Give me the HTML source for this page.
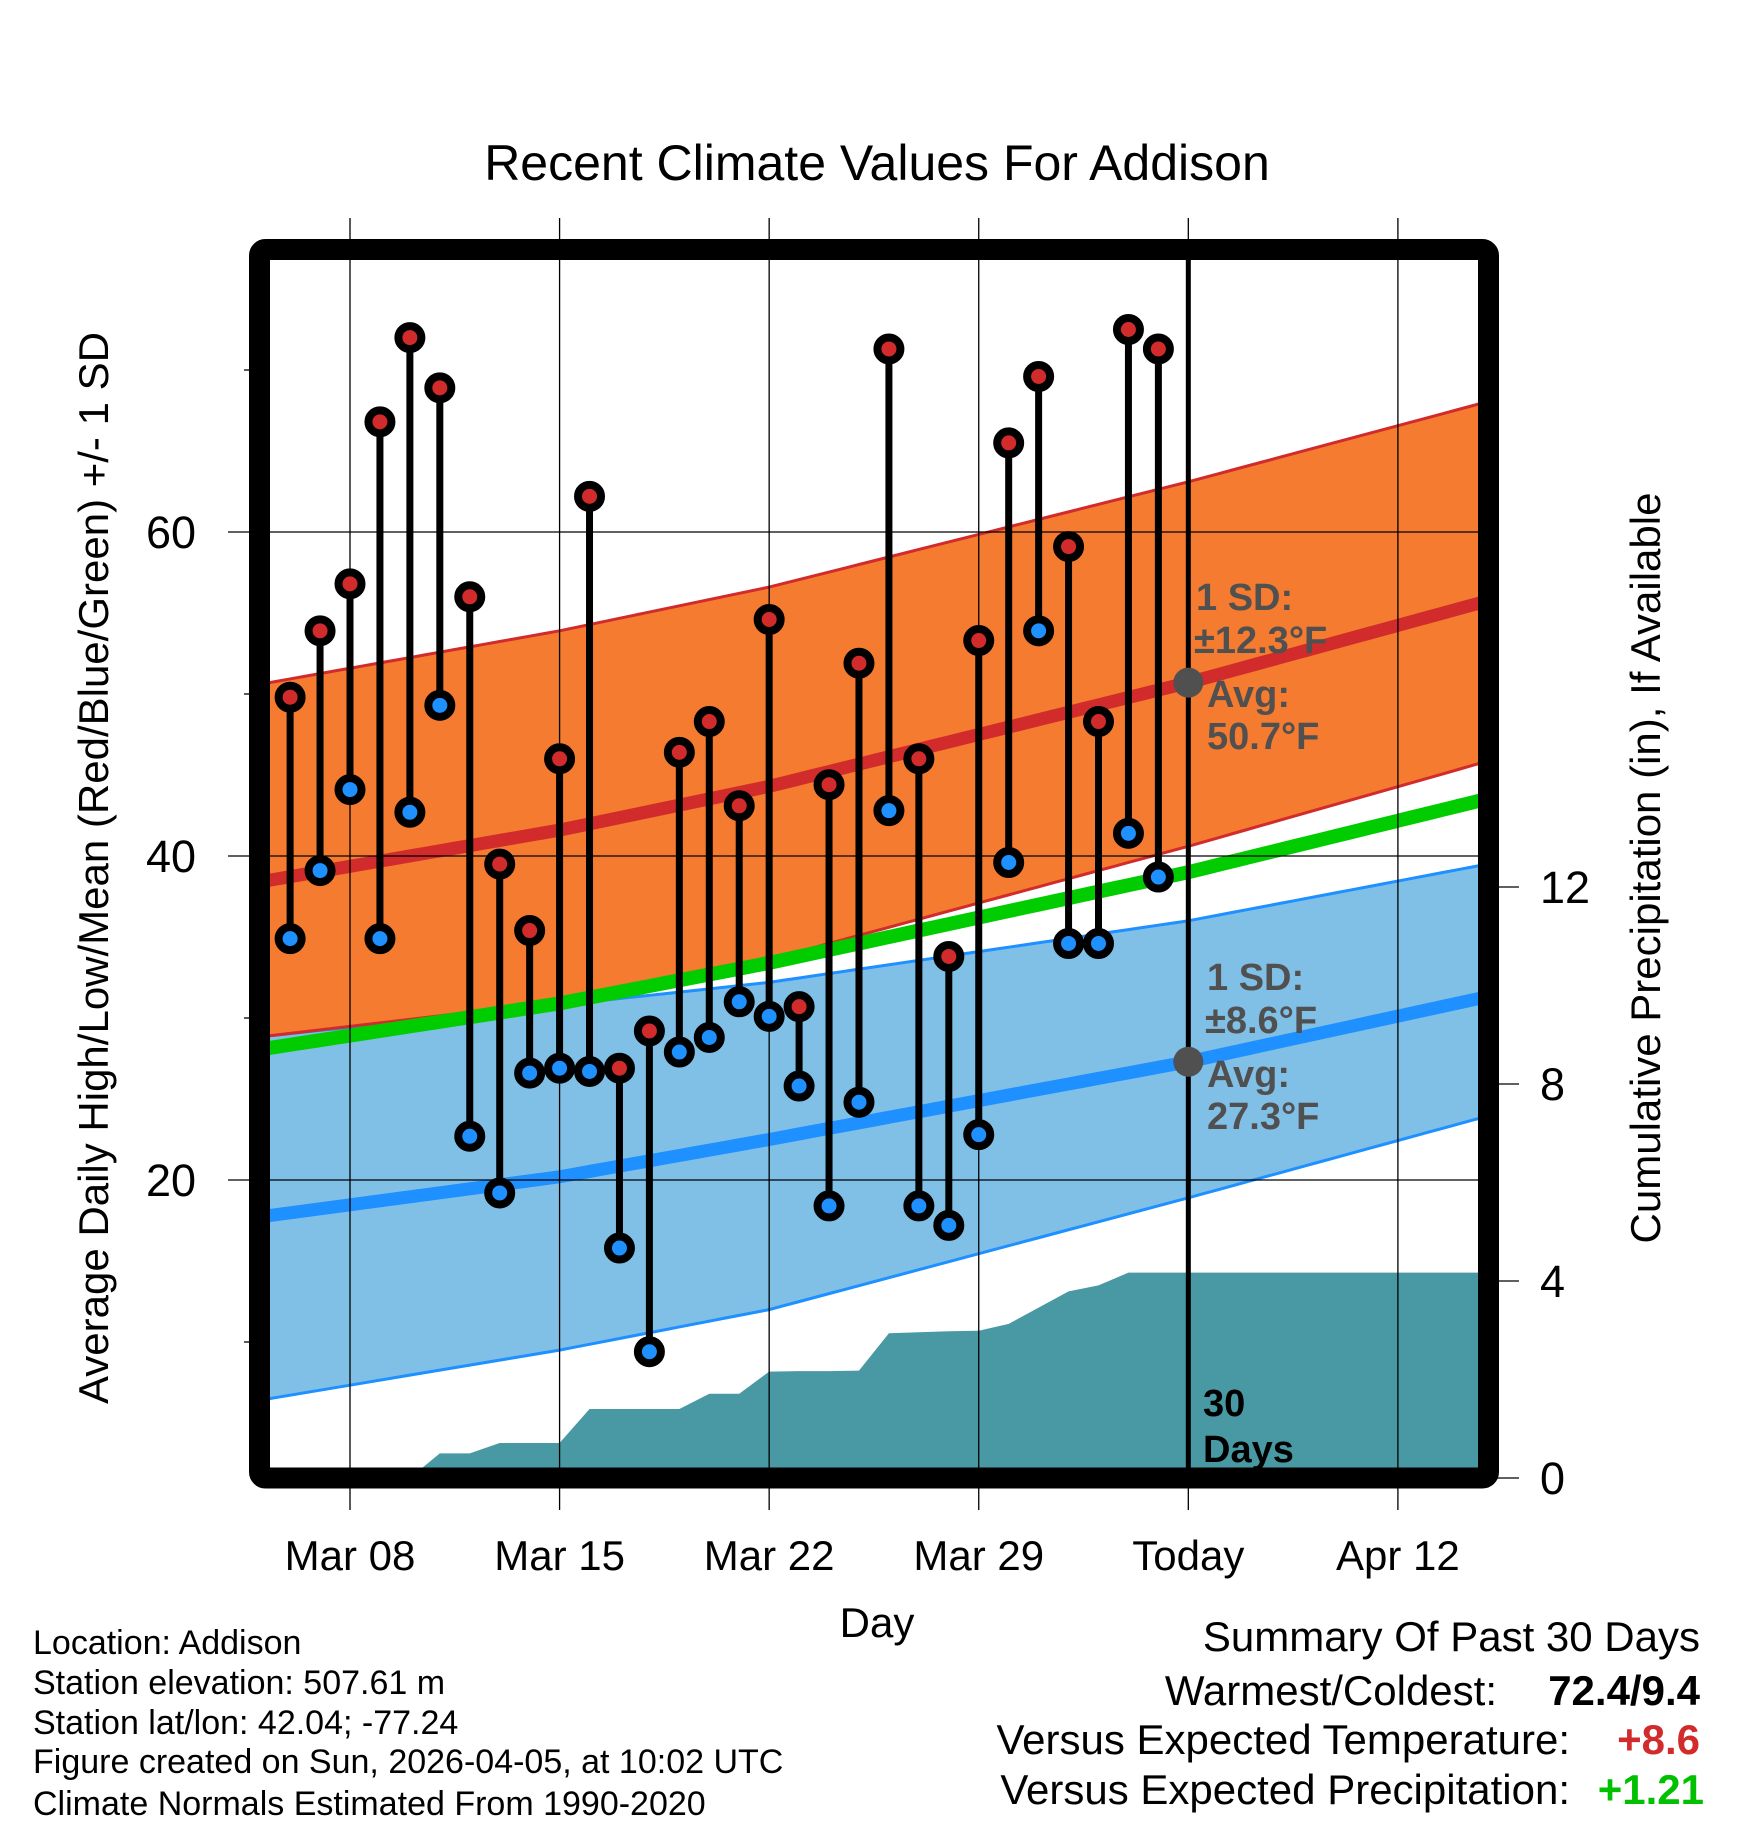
<!DOCTYPE html>
<html><head><meta charset="utf-8"><style>
html,body{margin:0;padding:0;background:#fff;}
svg{display:block;font-family:"Liberation Sans",Arial,sans-serif;}
</style></head><body>
<svg id="chart" width="1748" height="1828" viewBox="0 0 1748 1828" xmlns="http://www.w3.org/2000/svg">
<defs><clipPath id="plotclip"><rect x="270" y="260" width="1208" height="1208"/></clipPath></defs>
<g id="bg" clip-path="url(#plotclip)"></g>
<g id="grid"></g>
<g id="marks" clip-path="url(#plotclip)"></g>
<g id="frame"></g>
<g id="labels"></g>
</svg>
<script>
// ---- data ----
const dayLabels = ["Mar 08","Mar 15","Mar 22","Mar 29","Today","Apr 12"];
const dayTicks = [3,10,17,24,31,38];
const obsDays = [1,2,3,4,5,6,7,8,9,10,11,12,13,14,15,16,17,18,19,20,21,22,23,24,25,26,27,28,29,30];
const highs = [49.8,53.9,56.8,66.8,72.0,68.9,56.0,39.5,35.4,46.0,62.2,26.9,29.2,46.4,48.3,43.1,54.6,30.7,44.4,51.9,71.3,46.0,33.8,53.3,65.5,69.6,59.1,48.3,72.5,71.3];
const lows = [34.9,39.1,44.1,34.9,42.7,49.3,22.7,19.2,26.6,26.9,26.7,15.8,9.4,27.9,28.8,31.0,30.1,25.8,18.4,24.8,42.8,18.4,17.2,22.8,39.6,53.9,34.6,34.6,41.4,38.7];
const precip = [0,0,0,0,0,0.5,0.5,0.71,0.71,0.71,1.40,1.40,1.40,1.40,1.71,1.71,2.16,2.17,2.17,2.18,2.94,2.96,2.98,2.99,3.13,3.46,3.79,3.91,4.17,4.17];
const normDays = [0.3,10,17,31,40.7];
const normHigh = [38.5,41.6,44.3,50.7,55.6];
const highUpper = [50.7,53.9,56.6,63.1,67.9];
const highLower = [28.9,31.0,33.6,40.6,45.7];
const normLow = [17.8,20.2,22.5,27.3,31.2];
const lowUpper = [28.9,30.8,32.2,36.0,39.4];
const lowLower = [6.5,9.5,12.0,18.9,23.8];
const tempTicks = [20,40,60];
const tempMinor = [10,30,50,70];
const precipTicks = [0,4,8,12];
const todayDay = 31;

// ---- axes ----
const X = d => 350 + (d-3)*29.94;
const Y = t => 532 - (t-60)*16.2;
const P = p => 1478 - p*49.25;
const NS="http://www.w3.org/2000/svg";
function mk(tag, parent, attrs){const e=document.createElementNS(NS,tag);for(const k in attrs)e.setAttribute(k,attrs[k]);parent.appendChild(e);return e;}
const bg=document.getElementById('bg'), grid=document.getElementById('grid'), marks=document.getElementById('marks'), frame=document.getElementById('frame'), labels=document.getElementById('labels');
function interp(d, ds, vs){
  if(d<=ds[1]){const f=(d-ds[0])/(ds[1]-ds[0]);return vs[0]+f*(vs[1]-vs[0]);}
  for(let i=1;i<ds.length-1;i++){if(d<=ds[i+1]){const f=(d-ds[i])/(ds[i+1]-ds[i]);return vs[i]+f*(vs[i+1]-vs[i]);}}
  const n=ds.length-1;const f=(d-ds[n-1])/(ds[n]-ds[n-1]);return vs[n-1]+f*(vs[n]-vs[n-1]);}
function curve(vs){const pts=[];for(let d=-1;d<=43;d+=0.5){pts.push([X(d),Y(interp(d,normDays,vs))]);}return pts;}
function poly(top,bot){return 'M'+top.map(p=>p.join(',')).join('L')+'L'+bot.slice().reverse().map(p=>p.join(',')).join('L')+'Z';}
function line(pts){return 'M'+pts.map(p=>p.join(',')).join('L');}

let e;
e=mk('path',bg,{d:poly(curve(lowUpper),curve(lowLower)),fill:'#80bfe6'});

e=mk('path',bg,{d:line(curve(lowUpper)),stroke:'#1e90ff','stroke-width':3,fill:'none'});

e=mk('path',bg,{d:line(curve(lowLower)),stroke:'#1e90ff','stroke-width':3,fill:'none'});

e=mk('path',bg,{d:poly(curve(highUpper),curve(highLower)),fill:'#f47b2f'});

e=mk('path',bg,{d:line(curve(highUpper)),stroke:'#d12b2b','stroke-width':3,fill:'none'});

e=mk('path',bg,{d:line(curve(highLower)),stroke:'#d12b2b','stroke-width':3,fill:'none'});

{const pts=[[X(obsDays[0]),P(0)]];obsDays.forEach((d,i)=>pts.push([X(d),P(precip[i])]));pts.push([X(43),P(precip[precip.length-1])]);pts.push([X(43),P(0)]);
e=mk('path',bg,{d:'M'+pts.map(p=>p.join(',')).join('L')+'Z',fill:'#4899a3'});
}
const meanMid=normHigh.map((v,i)=>(v+normLow[i])/2);
e=mk('path',bg,{d:line(curve(meanMid)),stroke:'#00cc00','stroke-width':14,fill:'none'});

e=mk('path',bg,{d:line(curve(normHigh)),stroke:'#d12b2b','stroke-width':13,fill:'none'});

e=mk('path',bg,{d:line(curve(normLow)),stroke:'#1e90ff','stroke-width':13,fill:'none'});


dayTicks.forEach((d,i)=>{
  const g=mk('line',grid,{x1:X(d),x2:X(d),y1:218,y2:1510,stroke:'#000','stroke-width':1.3});
  
  const t=mk('text',labels,{x:X(d),y:1570,'text-anchor':'middle','font-size':42,fill:'#000'});t.textContent=dayLabels[i];
  
});
tempTicks.forEach(v=>{
  const g=mk('line',grid,{x1:228,x2:1478,y1:Y(v),y2:Y(v),stroke:'#000','stroke-width':1.3});
  
  const t=mk('text',labels,{x:196,y:Y(v)+16,'text-anchor':'end','font-size':45});t.textContent=v;
  
});
tempMinor.forEach(v=>{
  const g=mk('line',grid,{x1:244,x2:260,y1:Y(v),y2:Y(v),stroke:'#000','stroke-width':1.3});
  
});
precipTicks.forEach(v=>{
  const g=mk('line',grid,{x1:1490,x2:1519,y1:P(v),y2:P(v),stroke:'#000','stroke-width':1.3});
  
  const t=mk('text',labels,{x:1540,y:P(v)+16,'text-anchor':'start','font-size':45});t.textContent=v;
  
});

obsDays.forEach((d,i)=>{
  const s=mk('line',marks,{x1:X(d),x2:X(d),y1:Y(highs[i]),y2:Y(lows[i]),stroke:'#000','stroke-width':7});
  
});
obsDays.forEach((d,i)=>{
  const h=mk('circle',marks,{cx:X(d),cy:Y(highs[i]),r:11.5,fill:'#d12b2b',stroke:'#000','stroke-width':8});
  
  const l=mk('circle',marks,{cx:X(d),cy:Y(lows[i]),r:11.5,fill:'#1e90ff',stroke:'#000','stroke-width':8});
  
});
e=mk('line',marks,{x1:X(todayDay),x2:X(todayDay),y1:260,y2:1470,stroke:'#000','stroke-width':5});

e=mk('circle',marks,{cx:X(todayDay),cy:Y(interp(todayDay,normDays,normHigh)),r:15,fill:'#505050'});

e=mk('circle',marks,{cx:X(todayDay),cy:Y(interp(todayDay,normDays,normLow)),r:15,fill:'#505050'});


e=mk('rect',frame,{x:259.5,y:249.5,width:1229,height:1228.5,rx:6,fill:'none',stroke:'#000','stroke-width':21});

</script>
<svg style="position:absolute;left:0;top:0" width="1748" height="1828" viewBox="0 0 1748 1828">
<g font-family="Liberation Sans, Arial, sans-serif">
<text x="877" y="180" text-anchor="middle" font-size="50">Recent Climate Values For Addison</text>
<text transform="translate(108,868) rotate(-90)" text-anchor="middle" font-size="42">Average Daily High/Low/Mean (Red/Blue/Green) +/- 1 SD</text>
<text transform="translate(1660,868) rotate(-90)" text-anchor="middle" font-size="42">Cumulative Precipitation (in), If Available</text>
<text x="877" y="1637" text-anchor="middle" font-size="42">Day</text>
<g font-weight="bold" font-size="38" fill="#505050">
<text x="1196" y="610">1 SD:</text>
<text x="1194" y="653">±12.3°F</text>
<text x="1207" y="707">Avg:</text>
<text x="1207" y="749">50.7°F</text>
<text x="1207" y="990">1 SD:</text>
<text x="1205" y="1033">±8.6°F</text>
<text x="1207" y="1087">Avg:</text>
<text x="1207" y="1129">27.3°F</text>
</g>
<text font-weight="bold" font-size="38" x="1203" y="1416">30</text>
<text font-weight="bold" font-size="38" x="1203" y="1462">Days</text>
<g font-size="34" fill="#000">
<text x="33" y="1654">Location: Addison</text>
<text x="33" y="1694">Station elevation: 507.61 m</text>
<text x="33" y="1734">Station lat/lon: 42.04; -77.24</text>
<text x="33" y="1773">Figure created on Sun, 2026-04-05, at 10:02 UTC</text>
<text x="33" y="1815">Climate Normals Estimated From 1990-2020</text>
</g>
<g font-size="42" text-anchor="end">
<text x="1700" y="1651">Summary Of Past 30 Days</text>
<text x="1497" y="1705">Warmest/Coldest:</text>
<text x="1700" y="1705" font-weight="bold">72.4/9.4</text>
<text x="1570" y="1754">Versus Expected Temperature:</text>
<text x="1700" y="1754" font-weight="bold" fill="#d12b2b">+8.6</text>
<text x="1570" y="1804">Versus Expected Precipitation:</text>
<text x="1704" y="1804" font-weight="bold" fill="#00c000">+1.21</text>
</g>
</g>
</svg>
</body></html>
